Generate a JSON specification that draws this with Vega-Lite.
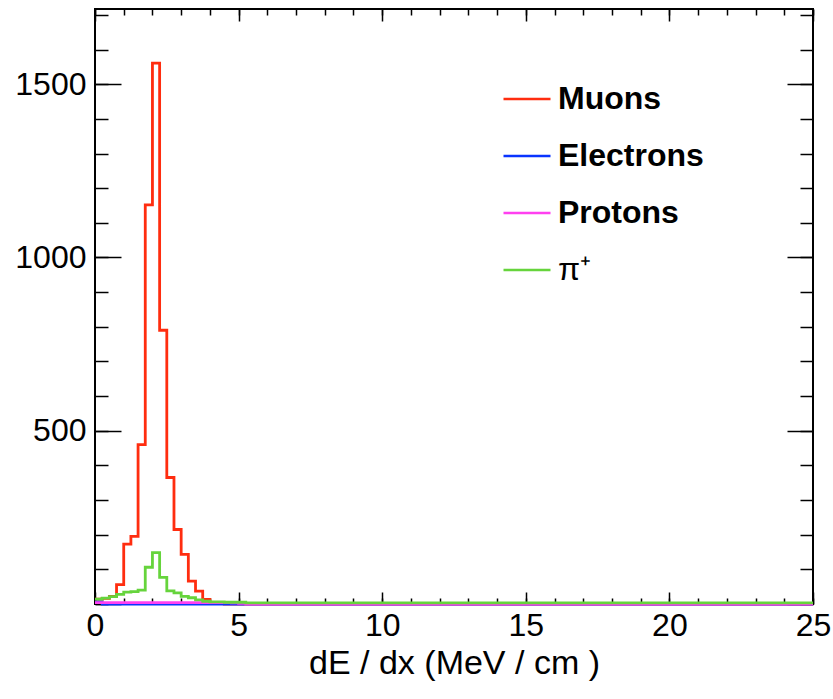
{
"$schema": "https://vega.github.io/schema/vega-lite/v6.json",
"width": 718, "height": 595,
"autosize": {"type": "none"},
"padding": {"left": 95, "top": 9, "right": 20, "bottom": 95},
"background": "white",
"config": {
  "view": {"stroke": "black", "strokeWidth": 2},
  "axis": {"grid": false, "domain": false, "labelFont": "Liberation Sans", "titleFont": "Liberation Sans", "labelColor": "black", "titleColor": "black", "tickColor": "black", "tickWidth": 1.5}
},
"data": {"values": [
{"x":0,"Muons":14,"Electrons":6,"Protons":4,"pi":14},
{"x":0.25,"Muons":16,"Electrons":0,"Protons":4,"pi":17},
{"x":0.5,"Muons":22,"Electrons":0,"Protons":4,"pi":21},
{"x":0.75,"Muons":56,"Electrons":0,"Protons":4,"pi":28},
{"x":1,"Muons":173,"Electrons":0,"Protons":4,"pi":34},
{"x":1.25,"Muons":195,"Electrons":0,"Protons":4,"pi":36},
{"x":1.5,"Muons":460,"Electrons":0,"Protons":4,"pi":40},
{"x":1.75,"Muons":1152,"Electrons":0,"Protons":4,"pi":106},
{"x":2,"Muons":1561,"Electrons":0,"Protons":4,"pi":148},
{"x":2.25,"Muons":790,"Electrons":0,"Protons":4,"pi":77},
{"x":2.5,"Muons":365,"Electrons":0,"Protons":4,"pi":38},
{"x":2.75,"Muons":215,"Electrons":0,"Protons":4,"pi":32},
{"x":3,"Muons":143,"Electrons":0,"Protons":4,"pi":22},
{"x":3.25,"Muons":66,"Electrons":0,"Protons":4,"pi":18},
{"x":3.5,"Muons":37,"Electrons":0,"Protons":4,"pi":12},
{"x":3.75,"Muons":13,"Electrons":0,"Protons":4,"pi":8},
{"x":4,"Muons":3,"Electrons":0,"Protons":4,"pi":6},
{"x":4.25,"Muons":2,"Electrons":0,"Protons":4,"pi":6},
{"x":4.5,"Muons":0,"Electrons":0,"Protons":4,"pi":5},
{"x":4.75,"Muons":0,"Electrons":0,"Protons":3,"pi":5},
{"x":5,"Muons":0,"Electrons":0,"Protons":2,"pi":5},
{"x":5.25,"Muons":0,"Electrons":0,"Protons":0,"pi":3},
{"x":5.5,"Muons":0,"Electrons":0,"Protons":0,"pi":3},
{"x":5.75,"Muons":0,"Electrons":0,"Protons":0,"pi":3},
{"x":6,"Muons":0,"Electrons":0,"Protons":0,"pi":3},
{"x":6.25,"Muons":0,"Electrons":0,"Protons":0,"pi":3},
{"x":6.5,"Muons":0,"Electrons":0,"Protons":0,"pi":3},
{"x":6.75,"Muons":0,"Electrons":0,"Protons":0,"pi":3},
{"x":7,"Muons":0,"Electrons":0,"Protons":0,"pi":3},
{"x":7.25,"Muons":0,"Electrons":0,"Protons":0,"pi":3},
{"x":7.5,"Muons":0,"Electrons":0,"Protons":0,"pi":3},
{"x":7.75,"Muons":0,"Electrons":0,"Protons":0,"pi":3},
{"x":8,"Muons":0,"Electrons":0,"Protons":0,"pi":3},
{"x":8.25,"Muons":0,"Electrons":0,"Protons":0,"pi":3},
{"x":8.5,"Muons":0,"Electrons":0,"Protons":0,"pi":3},
{"x":8.75,"Muons":0,"Electrons":0,"Protons":0,"pi":3},
{"x":9,"Muons":0,"Electrons":0,"Protons":0,"pi":3},
{"x":9.25,"Muons":0,"Electrons":0,"Protons":0,"pi":3},
{"x":9.5,"Muons":0,"Electrons":0,"Protons":0,"pi":3},
{"x":9.75,"Muons":0,"Electrons":0,"Protons":0,"pi":3},
{"x":10,"Muons":0,"Electrons":0,"Protons":0,"pi":3},
{"x":10.25,"Muons":0,"Electrons":0,"Protons":0,"pi":3},
{"x":10.5,"Muons":0,"Electrons":0,"Protons":0,"pi":3},
{"x":10.75,"Muons":0,"Electrons":0,"Protons":0,"pi":3},
{"x":11,"Muons":0,"Electrons":0,"Protons":0,"pi":3},
{"x":11.25,"Muons":0,"Electrons":0,"Protons":0,"pi":3},
{"x":11.5,"Muons":0,"Electrons":0,"Protons":0,"pi":3},
{"x":11.75,"Muons":0,"Electrons":0,"Protons":0,"pi":3},
{"x":12,"Muons":0,"Electrons":0,"Protons":0,"pi":3},
{"x":12.25,"Muons":0,"Electrons":0,"Protons":0,"pi":3},
{"x":12.5,"Muons":0,"Electrons":0,"Protons":0,"pi":3},
{"x":12.75,"Muons":0,"Electrons":0,"Protons":0,"pi":3},
{"x":13,"Muons":0,"Electrons":0,"Protons":0,"pi":3},
{"x":13.25,"Muons":0,"Electrons":0,"Protons":0,"pi":3},
{"x":13.5,"Muons":0,"Electrons":0,"Protons":0,"pi":3},
{"x":13.75,"Muons":0,"Electrons":0,"Protons":0,"pi":3},
{"x":14,"Muons":0,"Electrons":0,"Protons":0,"pi":3},
{"x":14.25,"Muons":0,"Electrons":0,"Protons":0,"pi":3},
{"x":14.5,"Muons":0,"Electrons":0,"Protons":0,"pi":3},
{"x":14.75,"Muons":0,"Electrons":0,"Protons":0,"pi":3},
{"x":15,"Muons":0,"Electrons":0,"Protons":0,"pi":3},
{"x":15.25,"Muons":0,"Electrons":0,"Protons":0,"pi":3},
{"x":15.5,"Muons":0,"Electrons":0,"Protons":0,"pi":3},
{"x":15.75,"Muons":0,"Electrons":0,"Protons":0,"pi":3},
{"x":16,"Muons":0,"Electrons":0,"Protons":0,"pi":3},
{"x":16.25,"Muons":0,"Electrons":0,"Protons":0,"pi":3},
{"x":16.5,"Muons":0,"Electrons":0,"Protons":0,"pi":3},
{"x":16.75,"Muons":0,"Electrons":0,"Protons":0,"pi":3},
{"x":17,"Muons":0,"Electrons":0,"Protons":0,"pi":3},
{"x":17.25,"Muons":0,"Electrons":0,"Protons":0,"pi":3},
{"x":17.5,"Muons":0,"Electrons":0,"Protons":0,"pi":3},
{"x":17.75,"Muons":0,"Electrons":0,"Protons":0,"pi":3},
{"x":18,"Muons":0,"Electrons":0,"Protons":0,"pi":3},
{"x":18.25,"Muons":0,"Electrons":0,"Protons":0,"pi":3},
{"x":18.5,"Muons":0,"Electrons":0,"Protons":0,"pi":3},
{"x":18.75,"Muons":0,"Electrons":0,"Protons":0,"pi":3},
{"x":19,"Muons":0,"Electrons":0,"Protons":0,"pi":3},
{"x":19.25,"Muons":0,"Electrons":0,"Protons":0,"pi":3},
{"x":19.5,"Muons":0,"Electrons":0,"Protons":0,"pi":3},
{"x":19.75,"Muons":0,"Electrons":0,"Protons":0,"pi":3},
{"x":20,"Muons":0,"Electrons":0,"Protons":0,"pi":3},
{"x":20.25,"Muons":0,"Electrons":0,"Protons":0,"pi":3},
{"x":20.5,"Muons":0,"Electrons":0,"Protons":0,"pi":3},
{"x":20.75,"Muons":0,"Electrons":0,"Protons":0,"pi":3},
{"x":21,"Muons":0,"Electrons":0,"Protons":0,"pi":3},
{"x":21.25,"Muons":0,"Electrons":0,"Protons":0,"pi":3},
{"x":21.5,"Muons":0,"Electrons":0,"Protons":0,"pi":3},
{"x":21.75,"Muons":0,"Electrons":0,"Protons":0,"pi":3},
{"x":22,"Muons":0,"Electrons":0,"Protons":0,"pi":3},
{"x":22.25,"Muons":0,"Electrons":0,"Protons":0,"pi":3},
{"x":22.5,"Muons":0,"Electrons":0,"Protons":0,"pi":3},
{"x":22.75,"Muons":0,"Electrons":0,"Protons":0,"pi":3},
{"x":23,"Muons":0,"Electrons":0,"Protons":0,"pi":3},
{"x":23.25,"Muons":0,"Electrons":0,"Protons":0,"pi":3},
{"x":23.5,"Muons":0,"Electrons":0,"Protons":0,"pi":3},
{"x":23.75,"Muons":0,"Electrons":0,"Protons":0,"pi":3},
{"x":24,"Muons":0,"Electrons":0,"Protons":0,"pi":3},
{"x":24.25,"Muons":0,"Electrons":0,"Protons":0,"pi":3},
{"x":24.5,"Muons":0,"Electrons":0,"Protons":0,"pi":3},
{"x":24.75,"Muons":0,"Electrons":0,"Protons":0,"pi":3},
{"x":25,"Muons":0,"Electrons":0,"Protons":0,"pi":3}
]},
"transform": [{"fold": ["Muons", "Electrons", "Protons", "pi"], "as": ["series", "count"]}],
"layer": [
  {
    "mark": {"type": "line", "interpolate": "step-after", "strokeWidth": 2.8},
    "encoding": {
      "x": {"field": "x", "type": "quantitative", "scale": {"domain": [0, 25], "nice": false, "zero": false},
            "axis": {"orient": "bottom", "values": [0, 5, 10, 15, 20, 25], "ticks": false, "labelFontSize": 32, "labelPadding": 6, "labelFlush": false, "title": "dE / dx (MeV / cm )", "titleFontSize": 34, "titleFontWeight": "normal", "titlePadding": 5}},
      "y": {"field": "count", "type": "quantitative", "scale": {"domain": [0, 1717], "nice": false},
            "axis": {"orient": "left", "values": [500, 1000, 1500], "format": "d", "ticks": false, "labelFontSize": 32, "labelPadding": 9, "title": null}},
      "color": {"field": "series", "type": "nominal",
                "scale": {"domain": ["Muons", "Electrons", "Protons", "pi"], "range": ["#ff2d0f", "#0a34ff", "#ff40f0", "#66d43c"]},
                "legend": {"orient": "none", "legendX": 407, "legendY": 65, "title": null, "symbolType": "stroke", "symbolSize": 2209, "symbolStrokeWidth": 2.5, "labelFontSize": 32, "labelFont": "Liberation Sans", "labelFontWeight": "bold", "labelColor": "black", "labelOffset": 6, "rowPadding": 16, "labelExpr": "datum.value == 'pi' ? 'π⁺' : datum.label",
                           "encode": {"labels": {"update": {"fontWeight": {"signal": "datum.value == 'pi' ? 'normal' : 'bold'"}}}}}}
    }
  },
  {
    "mark": {"type": "point", "opacity": 0},
    "encoding": {
      "x": {"field": "x", "type": "quantitative", "axis": {"orient": "bottom", "values": [0, 5, 10, 15, 20, 25], "labels": false, "tickSize": -12, "title": null}},
      "y": {"field": "count", "type": "quantitative", "axis": {"orient": "left", "values": [0, 500, 1000, 1500], "labels": false, "tickSize": -26, "title": null}}
    }
  },
  {
    "mark": {"type": "point", "opacity": 0},
    "encoding": {
      "x": {"field": "x", "type": "quantitative", "axis": {"orient": "bottom", "values": [0,1,2,3,4,5,6,7,8,9,10,11,12,13,14,15,16,17,18,19,20,21,22,23,24,25], "labels": false, "tickSize": -6, "title": null}},
      "y": {"field": "count", "type": "quantitative", "axis": {"orient": "left", "values": [0,100,200,300,400,500,600,700,800,900,1000,1100,1200,1300,1400,1500,1600,1700], "labels": false, "tickSize": -13, "title": null}}
    }
  },
  {
    "mark": {"type": "point", "opacity": 0},
    "encoding": {
      "x": {"field": "x", "type": "quantitative", "axis": {"orient": "top", "values": [0, 5, 10, 15, 20, 25], "labels": false, "tickSize": -12, "title": null}},
      "y": {"field": "count", "type": "quantitative", "axis": {"orient": "right", "values": [0, 500, 1000, 1500], "labels": false, "tickSize": -26, "title": null}}
    }
  },
  {
    "mark": {"type": "point", "opacity": 0},
    "encoding": {
      "x": {"field": "x", "type": "quantitative", "axis": {"orient": "top", "values": [0,1,2,3,4,5,6,7,8,9,10,11,12,13,14,15,16,17,18,19,20,21,22,23,24,25], "labels": false, "tickSize": -6, "title": null}},
      "y": {"field": "count", "type": "quantitative", "axis": {"orient": "right", "values": [0,100,200,300,400,500,600,700,800,900,1000,1100,1200,1300,1400,1500,1600,1700], "labels": false, "tickSize": -13, "title": null}}
    }
  }
],
"resolve": {"axis": {"x": "independent", "y": "independent"}}
}
